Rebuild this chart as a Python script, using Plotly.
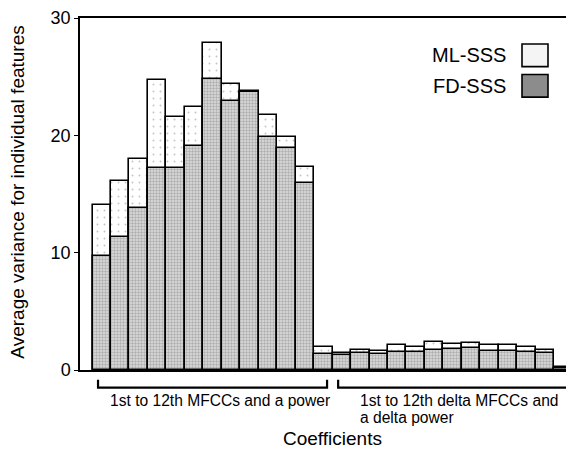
#!/usr/bin/env python3

import plotly.graph_objs as go

# 13 static coefficients (12 MFCCs + power) then 13 delta coefficients
coef_index = list(range(26))
ml_sss = [14.1, 16.1, 18.0, 24.7, 21.6, 22.4, 27.9, 24.4, 23.8, 21.7, 19.9, 17.3, 2.0,
          1.45, 1.7, 1.6, 2.1, 1.95, 2.35, 2.25, 2.3, 2.15, 2.15, 2.0, 1.7, 0.25]
fd_sss = [9.7, 11.3, 13.8, 17.2, 17.2, 19.1, 24.8, 22.9, 23.7, 19.9, 18.9, 15.9, 1.4,
          1.25, 1.45, 1.35, 1.55, 1.5, 1.7, 1.8, 1.85, 1.6, 1.6, 1.55, 1.45, 0.2]
groups = [(0, 12), (13, 25)]
y_ticks = [0, 10, 20, 30]

FONT = 'Liberation Sans, Arial, sans-serif'

fig = go.Figure()
fig.add_trace(go.Bar(
    x=coef_index, y=ml_sss, name='ML-SSS', showlegend=False,
    marker=dict(color='white', line=dict(color='black', width=1.6),
                pattern=dict(shape='.', fgcolor='#8a8a8a', bgcolor='white',
                             size=7, solidity=0.06))
))
fig.add_trace(go.Bar(
    x=coef_index, y=fd_sss, name='FD-SSS', showlegend=False,
    marker=dict(color='#c8c8c8', line=dict(color='black', width=1.6),
                pattern=dict(shape='.', fgcolor='#7e7e7e', bgcolor='#dedede',
                             size=3, solidity=0.5))
))

# the page body adds an 8px offset, so the figure is 8px smaller than the window
fig.update_layout(
    width=566, height=451,
    barmode='overlay', bargap=0,
    plot_bgcolor='white', paper_bgcolor='white',
    margin=dict(l=72, r=0, t=4, b=89),
    font=dict(family=FONT, color='black'),
    showlegend=False,
)
fig.update_xaxes(range=[-1.177, 25.57], showline=True, mirror=True,
                 linecolor='black', linewidth=1.5, showgrid=False,
                 showticklabels=False, ticks='', zeroline=False)
fig.update_yaxes(range=[0, 30], tickvals=y_ticks, showline=True,
                 linecolor='black', linewidth=1.5, showgrid=False,
                 ticks='outside', ticklen=4, tickwidth=1.2, tickcolor='black',
                 tickfont=dict(size=18, family=FONT), zeroline=False,
                 ticklabeloverflow='allow')
# right-hand inner ticks
fig.update_layout(yaxis2=dict(overlaying='y', side='right', range=[0, 30],
                              tickvals=y_ticks, ticks='inside', ticklen=4,
                              tickwidth=1.2, tickcolor='black',
                              showticklabels=False, showgrid=False,
                              showline=False, zeroline=False))
fig.add_trace(go.Scatter(x=[None], y=[None], yaxis='y2', showlegend=False,
                         hoverinfo='skip'))

# brackets under the x axis
for g0, g1 in groups:
    x0, x1 = g0 - 0.2, g1 + 0.2
    fig.add_shape(type='path', xref='x', yref='paper',
                  path=f'M {x0},-0.028 L {x0},-0.05 L {x1},-0.05 L {x1},-0.028',
                  line=dict(color='black', width=2.2))

annots = [
    dict(x=6.4, y=-0.086, xref='x', yref='paper', text='1st to 12th MFCCs and a power',
         xanchor='center', yanchor='middle', font=dict(size=15.6)),
    dict(x=13.9, y=-0.086, xref='x', yref='paper', text='1st to 12th delta MFCCs and',
         xanchor='left', yanchor='middle', font=dict(size=15.6)),
    dict(x=13.9, y=-0.134, xref='x', yref='paper', text='a delta power',
         xanchor='left', yanchor='middle', font=dict(size=15.6)),
    dict(x=0.512, y=-0.196, xref='paper', yref='paper', text='Coefficients',
         xanchor='center', yanchor='middle', font=dict(size=19)),
    dict(x=-0.126, y=0.506, xref='paper', yref='paper', textangle=-90,
         text='Average variance for individual features',
         xanchor='center', yanchor='middle', font=dict(size=19)),
]

# legend: label text on the left, swatch on the right
legend_items = [('ML-SSS', '#f4f4f4', 50), ('FD-SSS', '#8c8c8c', 81)]
for name, fill, ypx in legend_items:
    yc = (370 - ypx) / 358
    annots.append(dict(x=(508 - 80) / 494, y=yc, xref='paper', yref='paper',
                       text=name, xanchor='right', yanchor='middle',
                       showarrow=False, font=dict(size=20)))
    fig.add_shape(type='rect', xref='paper', yref='paper',
                  x0=(522 - 80) / 494, x1=(548 - 80) / 494,
                  y0=yc - 11.5 / 358, y1=yc + 11.5 / 358,
                  fillcolor=fill, line=dict(color='black', width=1.6))

for a in annots:
    a.setdefault('showarrow', False)
    fig.add_annotation(**a)

fig.write_html("out.html")
